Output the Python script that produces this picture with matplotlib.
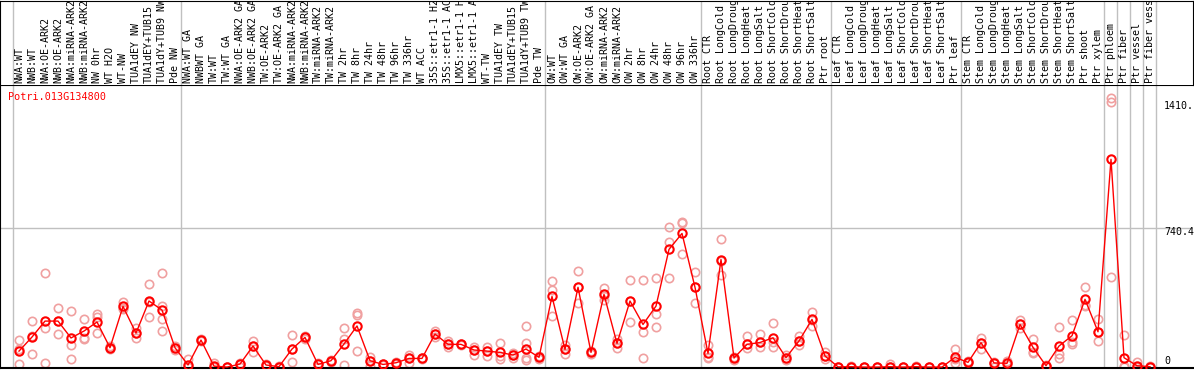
#!/usr/bin/env python

import numpy as np
import matplotlib.pyplot as plt
from matplotlib.transforms import ScaledTranslation

gene = 'Potri.013G134800'

# sample names, cut to 14 chars as in the source chart
labels = [
    'NWA:WT', 'NWB:WT', 'NWA:OE-ARK2', 'NWB:OE-ARK2', 'NWA:miRNA-ARK2',
    'NWB:miRNA-ARK2', 'NW 0hr', 'WT H2O', 'WT-NW', 'TUA1dEY NW',
    'TUA1dEY+TUB15', 'TUA1dY+TUB9 NW', 'Pde NW',
    'NWA:WT GA', 'NWBWT GA', 'TW:WT', 'TW:WT GA', 'NWA:OE-ARK2 GA',
    'NWB:OE-ARK2 GA', 'TW:OE-ARK2', 'TW:OE-ARK2 GA', 'NWA:miRNA-ARK2',
    'NWB:miRNA-ARK2', 'TW:miRNA-ARK2', 'TW:miRNA-ARK2', 'TW 2hr', 'TW 8hr',
    'TW 24hr', 'TW 48hr', 'TW 96hr', 'TW 336hr', 'WT ACC', '35S::etr1-1 H2',
    '35S::etr1-1 AC', 'LMX5::etr1-1 H', 'LMX5::etr1-1 A', 'WT-TW',
    'TUA1dEY TW', 'TUA1dEY+TUB15', 'TUA1dY+TUB9 TW', 'Pde TW',
    'OW:WT', 'OW:WT GA', 'OW:OE-ARK2', 'OW:OE-ARK2 GA', 'OW:miRNA-ARK2',
    'OW:miRNA-ARK2', 'OW 2hr', 'OW 8hr', 'OW 24hr', 'OW 48hr', 'OW 96hr',
    'OW 336hr',
    'Root CTR', 'Root LongCold', 'Root LongDroug', 'Root LongHeat',
    'Root LongSalt', 'Root ShortCold', 'Root ShortDrou', 'Root ShortHeat',
    'Root ShortSalt', 'Ptr root',
    'Leaf CTR', 'Leaf LongCold', 'Leaf LongDroug', 'Leaf LongHeat',
    'Leaf LongSalt', 'Leaf ShortCold', 'Leaf ShortDrou', 'Leaf ShortHeat',
    'Leaf ShortSalt', 'Ptr leaf',
    'Stem CTR', 'Stem LongCold', 'Stem LongDroug', 'Stem LongHeat',
    'Stem LongSalt', 'Stem ShortCold', 'Stem ShortDrou', 'Stem ShortHeat',
    'Stem ShortSalt', 'Ptr shoot', 'Ptr xylem',
    'Ptr phloem', 'Ptr fiber', 'Ptr vessel', 'Ptr fiber vess',
]
group_sizes = [13, 28, 12, 10, 10, 11, 1, 1, 1, 1]

means = [
    85, 160, 245, 245, 155, 192, 240, 103, 323, 181, 352, 304, 103,
    11, 144, 5, 0, 16, 112, 11, 2, 96, 158, 14, 34, 123, 219, 34, 14, 23,
    46, 46, 176, 121, 121, 91, 85, 78, 64, 96, 52,
    376, 94, 425, 78, 387, 126, 352, 227, 325, 627, 712, 425,
    73, 573, 48, 121, 131, 156, 50, 139, 254, 59,
    1, 2, 0, 0, 2, 0, 2, 0, 0, 52,
    25, 130, 22, 20, 227, 105, 7, 112, 167, 361, 188,
    1107, 50, 7, 2,
]

reps = [
    [144, 95, 16], [245, 166, 69], [499, 209, 21], [314, 245, 176],
    [299, 119, 43], [256, 157, 152], [284, 268, 181], [110, 104, 95],
    [346, 313, 310], [208, 179, 156], [441, 347, 268], [499, 325, 254, 192],
    [112, 103, 91],
    [43, 5, 0], [150, 144, 138], [21, 0, 0], [2, 0, 0], [21, 16, 0],
    [140, 112, 80], [16, 11, 5], [5, 2, 0], [170, 96, 28], [165, 158, 150],
    [21, 14, 0], [40, 34, 28], [208, 151, 11], [286, 277, 85], [55, 34, 5],
    [18, 14, 10], [28, 23, 18], [64, 46, 23], [50, 46, 42], [194, 176, 158],
    [137, 121, 107], [125, 121, 117], [108, 91, 64], [108, 85, 60],
    [130, 60, 41], [73, 64, 50], [219, 128, 48, 40], [60, 52, 41],
    [458, 410, 272], [117, 94, 69], [512, 424, 339], [85, 78, 70],
    [419, 376, 357], [148, 126, 103], [464, 352, 238], [464, 185, 46],
    [473, 281, 212], [745, 665, 476], [774, 766, 602], [505, 425, 339],
    [117, 55, 50], [680, 563, 490], [55, 48, 37], [165, 121, 100],
    [176, 131, 105], [236, 135, 105], [64, 50, 40], [165, 139, 117],
    [295, 250, 220], [82, 59, 41],
    [2, 0, 0], [5, 2, 0], [2, 0, 0], [2, 0, 0], [16, 0, 0], [0, 0, 0],
    [5, 2, 0], [0, 0, 0], [2, 0, 0], [96, 41, 20],
    [30, 25, 20], [153, 130, 94], [25, 20, 2], [32, 20, 10], [250, 227, 206],
    [148, 82, 73], [10, 7, 3], [212, 69, 46], [250, 135, 123],
    [425, 330, 328], [254, 188, 139],
    [1435, 1413, 480], [170, 5, 0], [28, 0, 0], [5, 2, 0],
]

tick_vals = [0, 740.4, 1410.8]
tick_text = ['0', '740.4', '1410.']

mono = 'DejaVu Sans Mono'
grey = '#c0c0c0'

x = np.arange(len(labels))
bounds = np.cumsum([0] + group_sizes) - 0.5
xlim = (-19 / 13., 1174 / 13.)

fig = plt.figure(figsize=(11.94, 3.70), dpi=100)
ax = fig.add_axes([0, 2 / 370., 1193 / 1194., 283 / 370.])
hd = fig.add_axes([0, 285 / 370., 1193 / 1194., 84.5 / 370.])

# header with the rotated sample names
hd.set_xlim(xlim)
hd.set_ylim(0, 1)
hd.set_xticks([])
hd.set_yticks([])
hd.spines['bottom'].set_visible(False)
for b in bounds:
    hd.axvline(b, color=grey, lw=1, zorder=0)
for i, lab in enumerate(labels):
    hd.text(i, 0.025, lab, rotation=90, ha='center', va='bottom',
            family=mono, fontsize=7.2, clip_on=True)

# main plot
ax.set_xlim(xlim)
ax.set_ylim(-5, 1503)
ax.set_xticks([])
ax.set_yticks([])
ax.spines['right'].set_visible(False)
ax.spines['bottom'].set_linewidth(1.5)
for b in bounds:
    ax.axvline(b, color=grey, lw=1, zorder=0)
ax.axhline(740.4, color=grey, lw=1, zorder=0)

for i, r in enumerate(reps):
    ax.plot([i] * len(r), r, 'o', ms=6, mfc='none', mec='#f0a0a0',
            mew=1.2, zorder=1)
ax.plot(x, means, color='red', lw=1, marker='o', ms=6, mfc='none',
        mec='red', mew=1.5, zorder=3)

ax.text(8 / 1193., 1 - 12 / 283., gene, color='red', family=mono,
        fontsize=7.3, va='center', ha='left', transform=ax.transAxes)

# value labels on the right side, nudged like the original
for v, s in zip(tick_vals, tick_text):
    dy = 0.06 if v == 0 else -0.04
    tr = ax.transData + ScaledTranslation(0, dy, fig.dpi_scale_trans)
    ax.text((1164 - 19) / 13., v, s, family=mono, fontsize=7.2,
            ha='left', va='center', transform=tr, clip_on=False)

fig.savefig('out.png', dpi=100)
